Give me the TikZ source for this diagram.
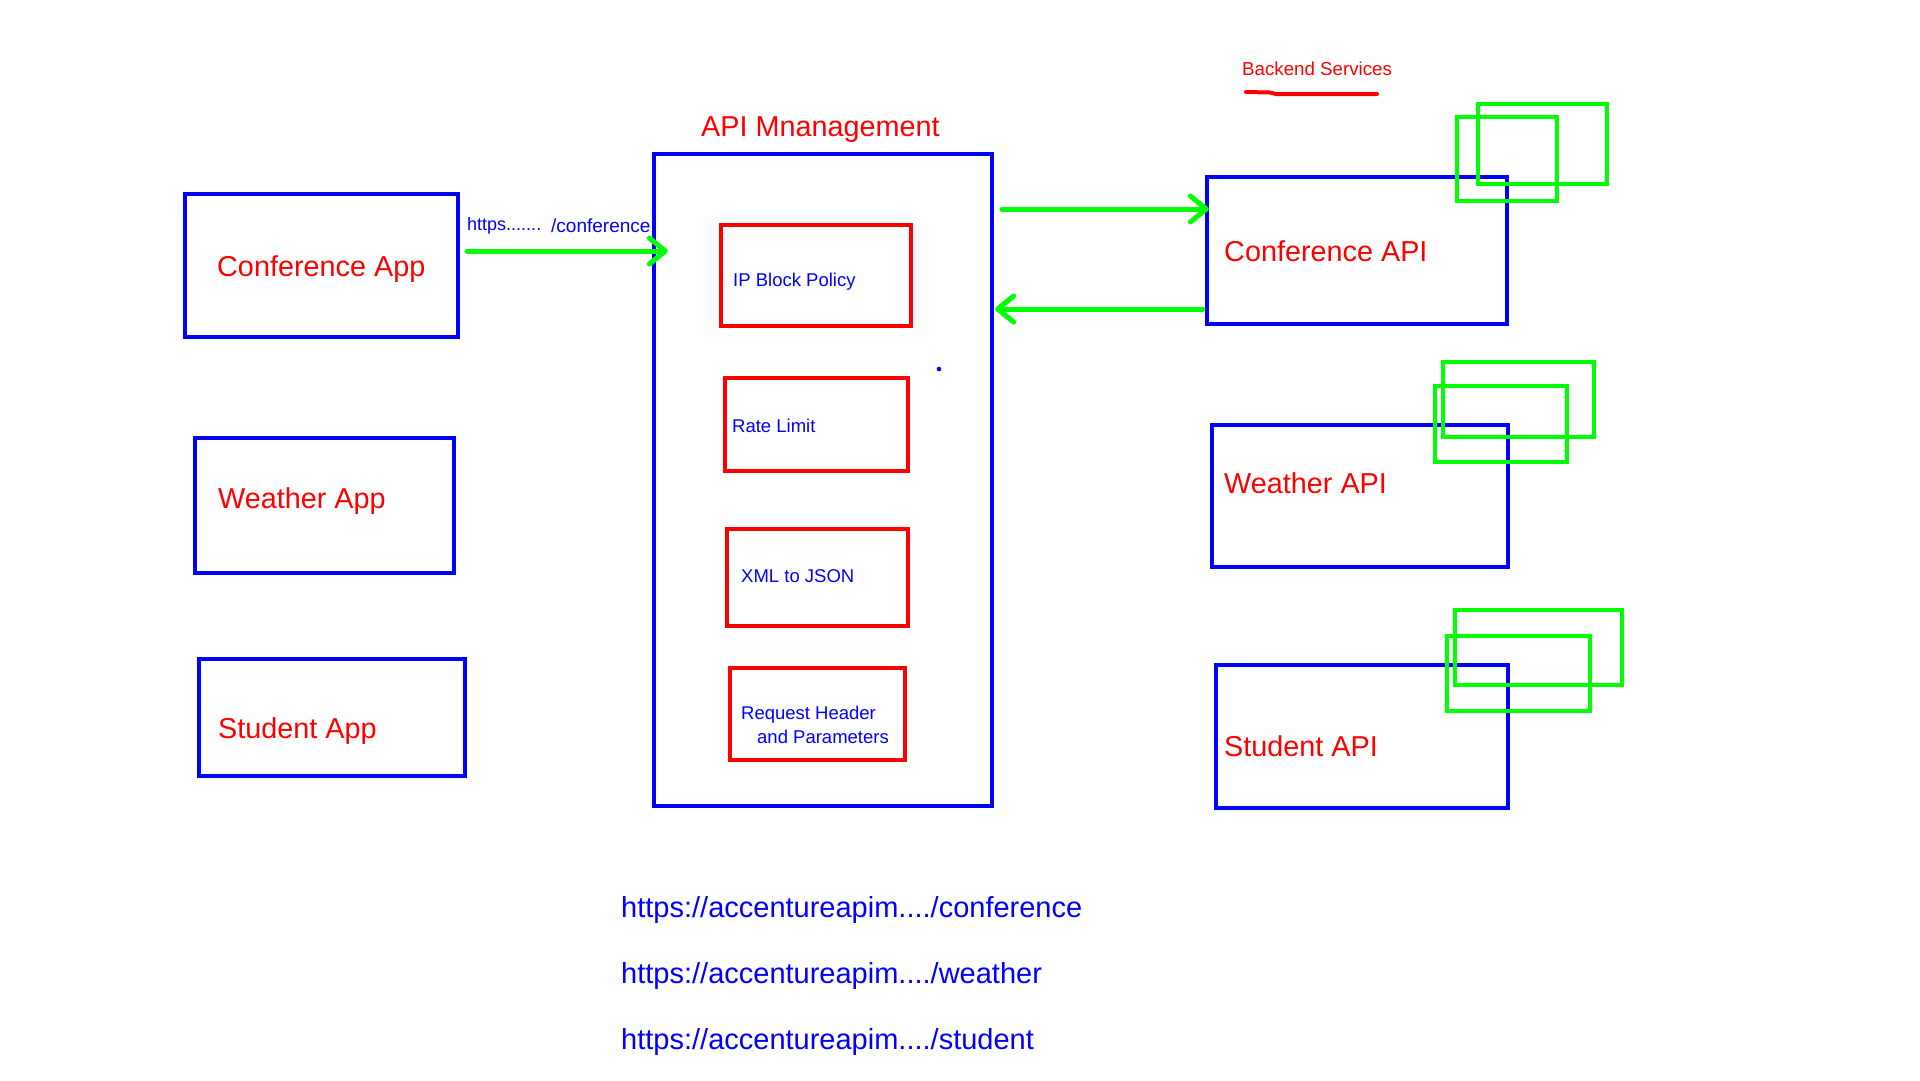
\documentclass[tikz,border=0pt]{standalone}
\usepackage{fontspec}
\setmainfont{Liberation Sans}
\usepackage{tikz}
\usetikzlibrary{calc,arrows.meta,positioning}
\definecolor{pblue}{RGB}{0,0,255}
\definecolor{pred}{RGB}{255,0,0}
\definecolor{pgreen}{RGB}{0,255,0}
\newcommand{\fsz}[2]{\fontsize{#1}{#2}\selectfont}

\begin{document}
\begin{tikzpicture}[x=1pt,y=-1pt,
    bluebox/.style={draw=pblue,line width=4.3pt,inner sep=0pt},
    redbox/.style={draw=pred,line width=4pt,inner sep=0pt},
    greenbox/.style={draw=pgreen,line width=4.3pt,inner sep=0pt},
    biglbl/.style={text=pred,font=\fsz{28.8}{34},anchor=base west,inner sep=0pt},
    smalllbl/.style={text=pblue,font=\fsz{18.5}{24},anchor=base west,inner sep=0pt,align=left},
    urllbl/.style={text=pblue,font=\fsz{29}{34},anchor=base west,inner sep=0pt},
    flow/.style={draw=pgreen,line width=5pt,line cap=round,-{Straight Barb[length=16pt,width=26pt,round]}}]
    \fill[white] (0,0) rectangle (1920,1080);
    \useasboundingbox (0,0) rectangle (1920,1080);

    % client apps
    \node[bluebox,minimum width=273pt,minimum height=143pt] (capp) at (321.5,265.5) {};
    \node[bluebox,minimum width=259pt,minimum height=135pt] (wapp) at (324.5,505.5) {};
    \node[bluebox,minimum width=266pt,minimum height=117pt] (sapp) at (332,717.5) {};
    \node[biglbl] (lcapp) at (217,276) {Conference App};
    \node[biglbl] (lwapp) at (218,508) {Weather App};
    \node[biglbl] (lsapp) at (218,738) {Student App};

    % api management with policies
    \node[biglbl] (lapim) at (701,136) {API Mnanagement};
    \node[bluebox,minimum width=338pt,minimum height=652pt] (apim) at (823,480) {};
    \node[redbox,minimum width=190pt,minimum height=101pt] (ipblock) at (816,275.5) {};
    \node[redbox,minimum width=183pt,minimum height=93pt] (rate) at (816.5,424.5) {};
    \node[redbox,minimum width=181pt,minimum height=97pt] (xml) at (817.5,577.5) {};
    \node[redbox,minimum width=175pt,minimum height=92pt] (reqhdr) at (817.5,714) {};
    \node[smalllbl] (lipblock) at (733,286) {IP Block Policy};
    \node[smalllbl] (lrate) at (732,432) {Rate Limit};
    \node[smalllbl] (lxml) at (741,582) {XML to JSON};
    \node[smalllbl] (lreqhdr) at (741,743) {Request Header\\\hspace*{16pt}and Parameters};
    \fill[pblue] (939,369) circle (2.3pt);

    % backend services
    \node[text=pred,font=\fsz{18.7}{22},anchor=base west,inner sep=0pt] (lbackend) at (1242,75) {Backend Services};
    \draw[draw=pred,line width=4pt,line cap=round] (1246,92) -- (1270,92.5) -- (1276,94) -- (1377,94);
    \node[bluebox,minimum width=300pt,minimum height=147pt] (confapi) at (1357,250.5) {};
    \node[bluebox,minimum width=296pt,minimum height=142pt] (wapi) at (1360,496) {};
    \node[bluebox,minimum width=292pt,minimum height=143pt] (sapi) at (1362,736.5) {};
    \node[biglbl] (lconfapi) at (1224,261) {Conference API};
    \node[biglbl] (lwapi) at (1224,493) {Weather API};
    \node[biglbl] (lsapi) at (1224,756) {Student API};

    % instances
    \node[greenbox,minimum width=129pt,minimum height=80pt] (conf1) at (1542.5,144) {};
    \node[greenbox,minimum width=100pt,minimum height=84pt] (conf2) at (1507,159) {};
    \node[greenbox,minimum width=151pt,minimum height=75pt] (w1) at (1518.5,399.5) {};
    \node[greenbox,minimum width=132pt,minimum height=76pt] (w2) at (1501,424) {};
    \node[greenbox,minimum width=167pt,minimum height=75pt] (s1) at (1538.5,647.5) {};
    \node[greenbox,minimum width=143pt,minimum height=75pt] (s2) at (1518.5,673.5) {};

    % calls
    \node[text=pblue,font=\fsz{18}{22},anchor=base west,inner sep=0pt] (lhttps) at (467,230) {https.......};
    \node[text=pblue,font=\fsz{19}{22},anchor=base west,inner sep=0pt] (lconfpath) at (551,232) {/conference};
    \draw[flow] ($(capp.east)+(7pt,14.5pt)$) -- ($(capp.east -| apim.west)+(16pt,14.5pt)$);
    \draw[flow] ($(apim.east |- confapi.west)+(8pt,41.5pt)$) -- ($(confapi.west)+(4pt,41.5pt)$);
    \draw[flow] ($(confapi.west)+(-2pt,-58.5pt)$) -- ($(apim.east |- confapi.west)+(1pt,-58.5pt)$);

    % urls
    \node[urllbl] (url1) at (621,917) {https://accentureapim..../conference};
    \node[urllbl] (url2) at (621,983) {https://accentureapim..../weather};
    \node[urllbl] (url3) at (621,1049) {https://accentureapim..../student};
\end{tikzpicture}
\end{document}
